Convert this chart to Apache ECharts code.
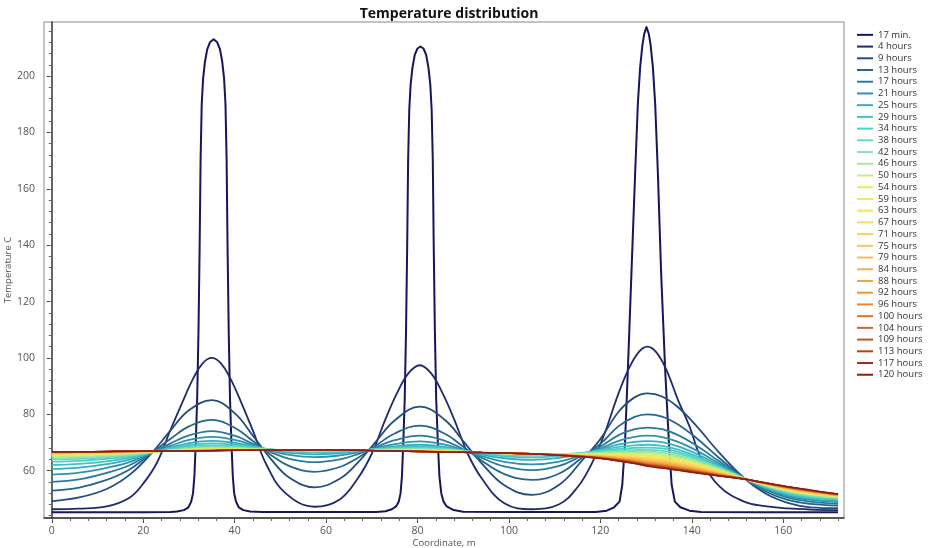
<!DOCTYPE html>
<html><head><meta charset="utf-8">
<script src="https://cdn.jsdelivr.net/npm/echarts@6/dist/echarts.min.js"></script>
<style>html,body{margin:0;padding:0;background:#fff}#chart{width:928px;height:548px}</style>
</head><body><div id="chart"></div>
<script>
const seriesNames = ['17 min.','4 hours','9 hours','13 hours','17 hours','21 hours','25 hours','29 hours','34 hours','38 hours','42 hours','46 hours','50 hours','54 hours','59 hours','63 hours','67 hours','71 hours','75 hours','79 hours','84 hours','88 hours','92 hours','96 hours','100 hours','104 hours','109 hours','113 hours','117 hours','120 hours'];
const seriesColors = ['#16165e','#1f2a6b','#234d7d','#26658c','#2a7b9b','#2f93ac','#36aebf','#3fc4cb','#4ccfc6','#66dac0','#86e2b0','#a6e89c','#c6ec7e','#e0ee62','#eeea58','#f5e35c','#f8da5e','#f9d060','#f9c658','#f7bb55','#f5b050','#f2a444','#ef9636','#e8872c','#dc7626','#cd6524','#bf5422','#b0421f','#a1301c','#901c18'];

// 17 min. curve (own coordinates, m)
const x17min = [0,20,26,27.4,28.9,29.9,30.5,30.9,31.2,31.5,31.8,32.1,32.35,32.55,32.8,33.1,33.5,34.0,34.6,35.4,36.2,36.8,37.3,37.7,38.0,38.25,38.45,38.7,39.0,39.3,39.6,39.9,40.3,40.9,41.9,43.4,46,55,65,71,
  73,74.4,75.3,75.9,76.3,76.6,76.9,77.2,77.5,77.75,77.95,78.2,78.5,78.9,79.4,80.0,80.65,81.3,81.9,82.4,82.8,83.1,83.35,83.55,83.8,84.1,84.45,84.8,85.2,85.7,86.4,87.9,90,100,112,
  119,121.4,123,124.2,124.8,125.4,126.0,126.8,127.6,128.2,128.7,129.2,129.6,130.1,130.6,131.0,131.5,132.0,132.6,133.3,134.2,135.0,135.6,136.3,137.5,139.5,142,155,172];
const temp17min = [45.2,45.2,45.3,45.5,46,47,49,52,58,70,85,110,140,170,190,199,205,209.5,212,213.1,212,209.5,205,199,190,170,140,110,85,70,58,52,49,47,46,45.5,45.3,45.3,45.3,45.3,
  45.6,46.3,47.3,49,52,58,70,85,110,140,170,188,197,203,207.5,209.8,210.5,209.8,207.5,203,197,188,170,140,110,85,70,58,52,49,47.3,46,45.4,45.3,45.3,
  45.3,45.8,47,49,55,70,95,130,165,190,203,211,215,217.4,215,211,203,190,165,130,95,70,55,49,47,45.8,45.3,45.2,45.2];

// 4 hours curve (own coordinates, m)
const x4h = [0,6,12,17,20,23,26,28.5,31,33,35,37,39,41.5,44,47,51,57.5,63,67,70,73,75.5,78,80.5,83,85.5,88,91,94,99,105,111,115,118,121,123.5,126,128.3,130.3,132.3,134.5,137,139.5,142,146,151.5,156,161,166,172];
const temp4h = [46.3,46.5,47.3,50.4,55.4,62.8,74.6,84.0,92.9,98.1,100.0,98.1,92.9,84.0,74.2,62.0,52.2,47.2,49.8,57.4,66.0,78.3,87.4,94.5,97.4,94.5,87.4,78.3,66.0,57.4,48.4,46.3,48.1,54.1,62.1,73.5,85.3,95.4,101.9,104.0,101.9,95.6,85.0,75.7,64.5,54.5,49.0,47.4,46.6,46.2,46.0];

// shared coordinates for the other curves (m)
const xGrid = [0,6,12,17,22,26,30,35,40,44,48,52,57.5,63,67,71,75,80.5,86,90,94,99,105,111,116,120,124,127.5,130.3,133.5,137,141,146,151.5,156,161,166,172];

const temp9h = [49.2,50.5,53.5,58.5,66.5,74.3,81.4,85.0,80.4,72.4,64.0,57.5,54.1,57.1,62.9,70.5,77.8,82.7,78.0,70.5,62.7,54.8,51.4,55.0,63.6,71.2,80.9,86.0,87.4,86.3,82.5,75.9,66.4,57.3,52.0,48.6,47.0,46.7];
const temp13h = [52.9,54.0,56.7,60.4,66.5,71.3,75.7,78.0,75.2,70.5,65.5,61.6,59.6,61.3,64.6,69.0,73.2,76.0,73.1,68.5,63.6,58.8,56.7,59.0,64.6,69.5,75.8,79.1,80.0,79.2,76.4,71.6,64.5,57.3,52.7,49.6,48.2,47.6];
const temp17h = [56.0,56.9,59.2,61.9,66.5,69.7,72.5,74.0,72.4,69.5,66.5,64.2,63.0,64.0,65.9,68.4,70.8,72.4,70.6,67.6,64.6,61.5,60.2,61.7,65.3,68.5,72.6,74.7,75.3,74.7,72.6,68.9,63.3,57.3,53.3,50.4,49.0,48.2];
const temp21h = [58.6,59.3,61.0,63.0,66.5,68.8,70.9,72.0,70.9,69.1,67.1,65.6,64.8,65.4,66.5,68.0,69.4,70.4,69.2,67.2,65.2,63.1,62.2,63.2,65.7,67.8,70.6,72.0,72.4,71.9,70.2,67.2,62.5,57.3,53.7,51.0,49.6,48.8];
const temp25h = [60.6,61.1,62.3,63.9,66.5,68.2,69.8,70.6,69.9,68.6,67.3,66.3,65.8,66.2,66.8,67.7,68.6,69.2,68.4,67.1,65.7,64.4,63.8,64.5,66.1,67.5,69.3,70.2,70.5,70.1,68.6,66.0,61.9,57.3,54.0,51.5,50.0,49.3];
const temp29h = [62.0,62.4,63.3,64.5,66.5,67.8,69.1,69.7,69.2,68.4,67.5,66.8,66.4,66.6,67.1,67.7,68.2,68.6,68.0,67.1,66.1,65.1,64.7,65.2,66.2,67.2,68.4,69.0,69.2,68.8,67.5,65.2,61.5,57.3,54.3,51.8,50.4,49.7];
const temp34h = [63.2,63.5,64.2,65.0,66.5,67.6,68.5,69.0,68.7,68.1,67.5,67.0,66.8,66.9,67.2,67.6,68.0,68.2,67.8,67.1,66.3,65.6,65.3,65.6,66.3,66.9,67.7,68.1,68.2,67.9,66.7,64.6,61.2,57.3,54.4,52.1,50.7,50.0];
const temp38h = [64.0,64.2,64.7,65.4,66.5,67.3,68.1,68.6,68.4,67.9,67.5,67.2,67.0,67.1,67.3,67.5,67.7,67.9,67.6,67.0,66.4,65.9,65.6,65.8,66.2,66.6,67.1,67.3,67.4,67.1,66.0,64.1,61.0,57.3,54.6,52.4,51.0,50.3];
const temp42h = [64.5,64.7,65.1,65.7,66.6,67.2,67.9,68.3,68.2,67.8,67.5,67.2,67.1,67.1,67.3,67.4,67.6,67.7,67.4,66.9,66.4,66.0,65.7,65.8,66.1,66.4,66.7,66.8,66.8,66.5,65.4,63.6,60.7,57.3,54.7,52.6,51.2,50.4];
const temp46h = [64.9,65.1,65.4,65.9,66.6,67.2,67.7,68.1,68.0,67.7,67.4,67.2,67.1,67.2,67.3,67.4,67.5,67.5,67.3,66.8,66.4,66.0,65.7,65.8,66.0,66.2,66.4,66.4,66.4,66.0,64.9,63.2,60.5,57.2,54.8,52.7,51.4,50.6];
const temp50h = [65.2,65.4,65.7,66.1,66.7,67.2,67.6,67.9,67.8,67.6,67.4,67.3,67.1,67.2,67.3,67.3,67.4,67.4,67.1,66.8,66.4,66.1,65.8,65.7,65.9,66.0,66.1,66.1,65.9,65.5,64.5,62.8,60.3,57.2,54.9,52.9,51.6,50.7];
const temp54h = [65.5,65.6,65.9,66.3,66.7,67.1,67.5,67.8,67.7,67.5,67.4,67.3,67.2,67.2,67.2,67.3,67.3,67.3,67.0,66.7,66.4,66.1,65.8,65.7,65.8,65.8,65.9,65.7,65.5,65.1,64.1,62.5,60.0,57.2,55.0,53.0,51.7,50.8];
const temp59h = [65.7,65.8,66.1,66.4,66.8,67.1,67.4,67.6,67.6,67.5,67.4,67.3,67.2,67.2,67.2,67.2,67.3,67.2,67.0,66.7,66.4,66.2,65.9,65.7,65.7,65.7,65.6,65.4,65.1,64.6,63.6,62.1,59.8,57.2,55.0,53.2,51.8,50.9];
const temp63h = [65.9,66.0,66.2,66.5,66.8,67.1,67.3,67.5,67.5,67.4,67.4,67.3,67.2,67.2,67.2,67.2,67.2,67.1,66.9,66.6,66.4,66.2,65.9,65.7,65.6,65.5,65.4,65.1,64.7,64.3,63.3,61.9,59.7,57.2,55.1,53.3,52.0,50.9];
const temp67h = [66.0,66.1,66.3,66.6,66.8,67.1,67.3,67.5,67.5,67.4,67.3,67.3,67.2,67.2,67.2,67.2,67.2,67.1,66.8,66.6,66.4,66.2,65.9,65.6,65.5,65.4,65.2,64.8,64.4,63.9,62.9,61.6,59.5,57.1,55.2,53.4,52.1,51.0];
const temp71h = [66.1,66.2,66.4,66.6,66.8,67.1,67.2,67.4,67.4,67.3,67.3,67.3,67.2,67.3,67.2,67.2,67.1,67.0,66.8,66.6,66.4,66.2,65.9,65.6,65.5,65.3,65.0,64.6,64.1,63.6,62.6,61.3,59.4,57.1,55.2,53.5,52.2,51.1];
const temp75h = [66.2,66.3,66.5,66.7,66.8,67.0,67.2,67.3,67.4,67.3,67.3,67.3,67.3,67.3,67.2,67.2,67.1,67.0,66.8,66.6,66.4,66.2,65.9,65.6,65.4,65.2,64.8,64.3,63.8,63.3,62.3,61.1,59.2,57.1,55.3,53.6,52.3,51.2];
const temp79h = [66.3,66.4,66.6,66.7,66.9,67.0,67.1,67.3,67.3,67.3,67.3,67.3,67.3,67.3,67.2,67.2,67.1,66.9,66.7,66.6,66.4,66.2,65.9,65.6,65.3,65.1,64.6,64.1,63.5,63.0,62.1,60.8,59.1,57.1,55.3,53.7,52.4,51.2];
const temp84h = [66.4,66.5,66.6,66.8,66.9,67.0,67.1,67.2,67.3,67.3,67.3,67.3,67.3,67.3,67.2,67.1,67.1,66.9,66.7,66.5,66.4,66.3,66.0,65.6,65.3,65.0,64.5,63.9,63.3,62.7,61.8,60.6,58.9,57.1,55.4,53.8,52.5,51.3];
const temp88h = [66.4,66.5,66.6,66.8,66.9,67.0,67.1,67.2,67.3,67.2,67.3,67.3,67.3,67.3,67.2,67.1,67.1,66.9,66.7,66.5,66.4,66.3,66.0,65.6,65.2,64.9,64.3,63.7,63.1,62.5,61.6,60.4,58.8,57.1,55.4,53.8,52.6,51.4];
const temp92h = [66.4,66.5,66.7,66.8,66.9,67.0,67.1,67.2,67.3,67.2,67.3,67.3,67.3,67.3,67.2,67.1,67.0,66.9,66.7,66.5,66.4,66.3,66.0,65.6,65.2,64.8,64.2,63.5,62.8,62.2,61.3,60.2,58.7,57.1,55.5,53.9,52.7,51.4];
const temp96h = [66.5,66.6,66.7,66.8,66.9,67.0,67.0,67.2,67.3,67.2,67.3,67.3,67.3,67.3,67.2,67.1,67.0,66.8,66.6,66.5,66.4,66.3,66.0,65.6,65.1,64.7,64.0,63.3,62.6,62.0,61.1,60.0,58.6,57.0,55.5,54.0,52.7,51.5];
const temp100h = [66.5,66.6,66.7,66.8,66.9,67.0,67.0,67.2,67.2,67.2,67.3,67.3,67.3,67.3,67.2,67.1,67.0,66.8,66.6,66.5,66.4,66.3,66.0,65.5,65.1,64.6,63.9,63.2,62.4,61.8,60.9,59.9,58.5,57.0,55.6,54.0,52.8,51.5];
const temp104h = [66.5,66.6,66.7,66.8,66.9,67.0,67.0,67.1,67.2,67.2,67.3,67.3,67.3,67.3,67.2,67.1,67.0,66.8,66.6,66.5,66.4,66.3,66.0,65.5,65.0,64.6,63.8,63.0,62.2,61.6,60.8,59.7,58.4,57.0,55.6,54.1,52.9,51.6];
const temp109h = [66.6,66.7,66.8,66.9,66.9,67.0,67.0,67.1,67.2,67.2,67.3,67.3,67.3,67.3,67.2,67.1,67.0,66.8,66.6,66.5,66.4,66.3,66.0,65.5,65.0,64.5,63.7,62.9,62.1,61.4,60.6,59.6,58.3,57.0,55.6,54.2,52.9,51.6];
const temp113h = [66.6,66.7,66.8,66.9,66.9,67.0,67.0,67.1,67.2,67.2,67.3,67.3,67.3,67.3,67.2,67.1,67.0,66.8,66.6,66.5,66.4,66.3,66.0,65.5,65.0,64.4,63.6,62.7,61.9,61.2,60.4,59.4,58.2,57.0,55.6,54.2,53.0,51.6];
const temp117h = [66.6,66.7,66.8,66.9,66.9,67.0,67.0,67.1,67.2,67.2,67.3,67.3,67.3,67.3,67.2,67.1,67.0,66.8,66.6,66.5,66.4,66.3,66.0,65.5,64.9,64.4,63.5,62.6,61.7,61.1,60.2,59.3,58.2,57.0,55.7,54.3,53.0,51.7];
const temp120h = [66.6,66.7,66.8,66.9,66.9,67.0,67.0,67.1,67.2,67.2,67.3,67.3,67.3,67.3,67.2,67.1,67.0,66.8,66.6,66.5,66.4,66.3,66.0,65.5,64.9,64.3,63.4,62.5,61.6,60.9,60.1,59.2,58.1,57.0,55.7,54.3,53.1,51.7];

const xTickValues = [0,20,40,60,80,100,120,140,160];
const yTickValues = [60,80,100,120,140,160,180,200];
const xMinorTicks = [0,4,8,12,16,20,24,28,32,36,40,44,48,52,56,60,64,68,72,76,80,84,88,92,96,100,104,108,112,116,120,124,128,132,136,140,144,148,152,156,160,164,168,172];
const yMinorTicks = [44,48,52,56,60,64,68,72,76,80,84,88,92,96,100,104,108,112,116,120,124,128,132,136,140,144,148,152,156,160,164,168,172,176,180,184,188,192,196,200,204,208,212,216];

const gridValues = [temp9h,temp13h,temp17h,temp21h,temp25h,temp29h,temp34h,temp38h,temp42h,temp46h,temp50h,temp54h,temp59h,temp63h,temp67h,temp71h,temp75h,temp79h,temp84h,temp88h,temp92h,temp96h,temp100h,temp104h,temp109h,temp113h,temp117h,temp120h];

const X_MIN = -1.7, X_MAX = 173.3, Y_MIN = 43.2, Y_MAX = 219.2;
const FONT = 'Open Sans';

const series = [];
series.push({
  name: seriesNames[0], type: 'line',
  data: x17min.map((x, i) => [x, temp17min[i]]),
  showSymbol: false, smooth: false,
  lineStyle: { width: 2, color: seriesColors[0], join: 'round' }, itemStyle: { color: seriesColors[0] }
});
series.push({
  name: seriesNames[1], type: 'line',
  data: x4h.map((x, i) => [x, temp4h[i]]),
  showSymbol: false, smooth: 0.4,
  lineStyle: { width: 1.8, color: seriesColors[1] }, itemStyle: { color: seriesColors[1] }
});
gridValues.forEach((vals, k) => {
  const c = seriesColors[k + 2];
  series.push({
    name: seriesNames[k + 2], type: 'line',
    data: xGrid.map((x, i) => [x, vals[i]]),
    showSymbol: false, smooth: 0.4,
    lineStyle: { width: k < 8 ? 1.8 : 1.5, color: c }, itemStyle: { color: c }
  });
});

const chart = echarts.init(document.getElementById('chart'), null, { renderer: 'canvas' });
chart.setOption({
  animation: false,
  backgroundColor: '#fff',
  title: {
    text: 'Temperature distribution', left: 444, top: 2, textAlign: 'center',
    textStyle: { fontFamily: FONT, fontSize: 14, fontWeight: 'bold', color: '#111' }
  },
  legend: {
    orient: 'vertical', left: 852, top: 24, padding: 5,
    icon: 'rect', itemWidth: 16, itemHeight: 2, itemGap: 0,
    selectedMode: false,
    data: seriesNames,
    textStyle: { fontFamily: FONT, fontSize: 9.5, lineHeight: 11.72, color: '#333' }
  },
  grid: { left: 44, top: 22, right: 84, bottom: 30, show: true, borderColor: '#888', borderWidth: 1,
          containLabel: false, outerBoundsMode: 'none' },
  xAxis: [{
    type: 'value', min: X_MIN, max: X_MAX, splitNumber: 9, position: 'bottom',
    name: 'Coordinate, m', nameLocation: 'middle', nameGap: 20, nameMoveOverlap: false,
    nameTextStyle: { fontFamily: FONT, fontSize: 9.5, color: '#555', verticalAlign: 'top' },
    axisLine: { show: true, lineStyle: { color: '#333', width: 1.5 } },
    axisTick: { show: true, length: 5, customValues: xTickValues, lineStyle: { color: '#444' } },
    axisLabel: { show: true, customValues: xTickValues, margin: 8, fontFamily: FONT, fontSize: 10.5, color: '#555' },
    splitLine: { show: false }
  }, {
    type: 'value', min: X_MIN, max: X_MAX, position: 'bottom',
    axisLine: { show: false },
    axisTick: { show: true, length: 3, customValues: xMinorTicks, lineStyle: { color: '#666' } },
    axisLabel: { show: false }, splitLine: { show: false }
  }],
  yAxis: [{
    type: 'value', min: Y_MIN, max: Y_MAX, splitNumber: 9, position: 'left',
    name: 'Temperature C', nameLocation: 'middle', nameGap: 31, nameRotate: 90, nameMoveOverlap: false,
    nameTextStyle: { fontFamily: FONT, fontSize: 9.5, color: '#555' },
    axisLine: { show: true, lineStyle: { color: '#333', width: 1.5 } },
    axisTick: { show: true, length: 5, customValues: yTickValues, lineStyle: { color: '#444' } },
    axisLabel: { show: true, customValues: yTickValues, margin: 9, fontFamily: FONT, fontSize: 10.5, color: '#555' },
    splitLine: { show: false }
  }, {
    type: 'value', min: Y_MIN, max: Y_MAX, position: 'left',
    axisLine: { show: false },
    axisTick: { show: true, length: 3, customValues: yMinorTicks, lineStyle: { color: '#666' } },
    axisLabel: { show: false }, splitLine: { show: false }
  }],
  series: series
});
</script>
</body></html>
